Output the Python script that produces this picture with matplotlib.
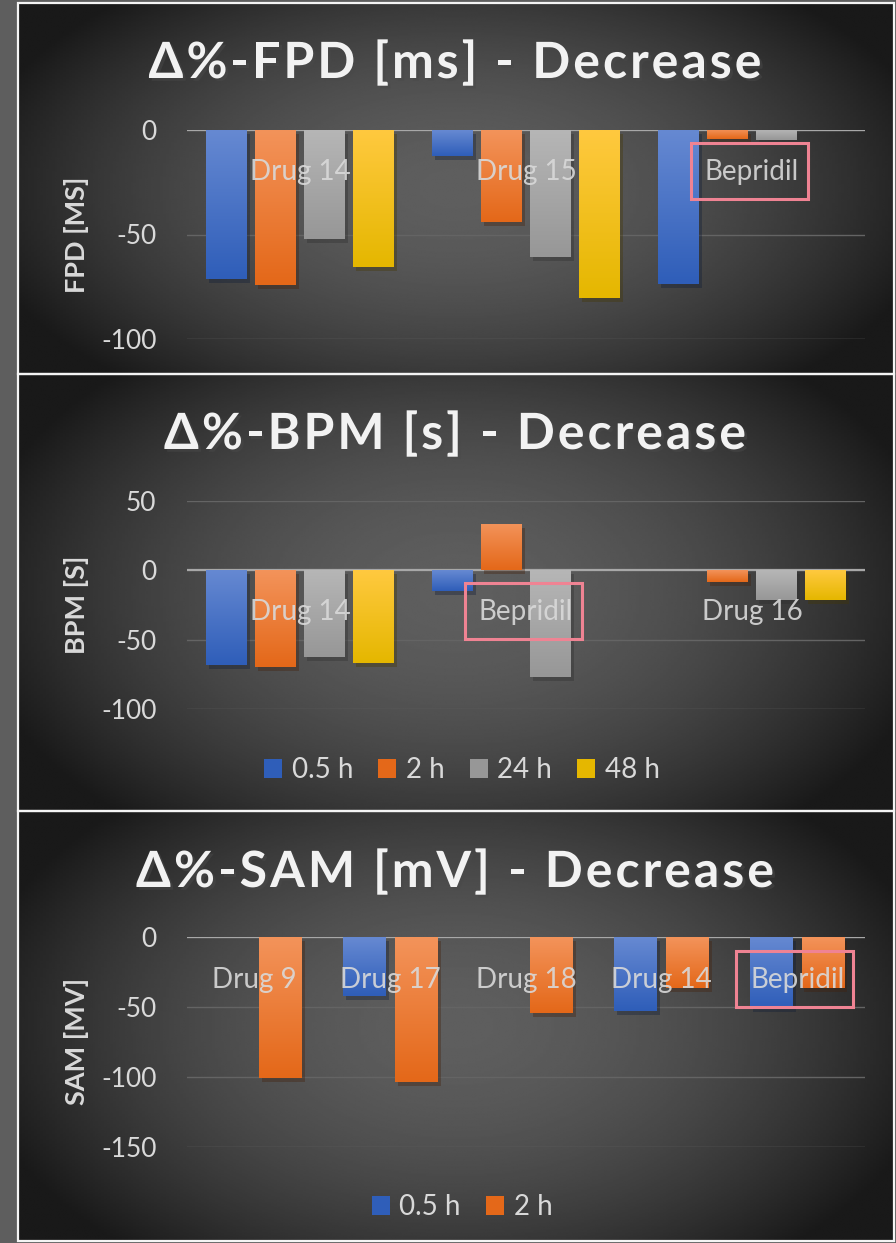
import numpy as np
import matplotlib
matplotlib.use("Agg")
import matplotlib.pyplot as plt
import matplotlib.patheffects as pe
from matplotlib.patches import Rectangle, Patch
from matplotlib.transforms import IdentityTransform
from matplotlib.colors import LinearSegmentedColormap

plt.rcParams['font.family'] = ['Lato', 'DejaVu Sans']
plt.rcParams['axes.unicode_minus'] = False

W, H = 896, 1243

# ---- data ----
hours = ["0.5 h", "2 h", "24 h", "48 h"]

fpd_drugs = ["Drug 14", "Drug 15", "Bepridil"]
fpd_05h = [-71.3, -12.4, -73.7]
fpd_2h = [-74.2, -44.0, -4.5]
fpd_24h = [-52.2, -60.8, -4.8]
fpd_48h = [-65.6, -80.4, 0]

bpm_drugs = ["Drug 14", "Bepridil", "Drug 16"]
bpm_05h = [-68.5, -14.9, 0]
bpm_2h = [-69.7, 33.2, -8.4]
bpm_24h = [-62.5, -77.0, -21.6]
bpm_48h = [-66.9, 0, -21.6]

sam_drugs = ["Drug 9", "Drug 17", "Drug 18", "Drug 14", "Bepridil"]
sam_05h = [0, -42.0, 0, -52.7, -51.0]
sam_2h = [-100.6, -103.5, -54.1, -36.3, -36.3]

# (top colour, bottom colour) of each series gradient
colors = [("#6689d2", "#2f5eb9"),
          ("#f3935a", "#e46819"),
          ("#b6b6b6", "#979797"),
          ("#ffc93f", "#e5b700")]
txt = "#d9d9d9"
pink = "#ef8393"

fig = plt.figure(figsize=(W / 100, H / 100), dpi=100)
fig.patch.set_facecolor("#5e5e5e")
renderer = fig.canvas.get_renderer()


def frac(x0, y0, x1, y1):
    return [x0 / W, 1 - y1 / H, (x1 - x0) / W, (y1 - y0) / H]


def px_rect(x0, y0, x1, y1, **kw):
    fig.add_artist(Rectangle((x0, H - y1), x1 - x0, y1 - y0,
                             transform=IdentityTransform(), **kw))


# radial dark background of every panel
gx, gy = np.meshgrid(np.linspace(-1, 1, 300), np.linspace(-1, 1, 300))
dist = np.sqrt(gx ** 2 + (gy / 1.25) ** 2)
radial = np.clip(0.37 - 0.22 * dist ** 1.8, 0.1, 1)


def panel(y0, y1):
    bg = fig.add_axes(frac(18, y0, 894, y1), zorder=0)
    bg.imshow(radial, cmap="gray", vmin=0, vmax=1, extent=(0, 1, 0, 1),
              aspect="auto", interpolation="bilinear")
    bg.set_axis_off()
    px_rect(18, y0, 894, y1, facecolor="none", edgecolor="#f4f4f4",
            lw=1.6, zorder=10)


def text_width(s, **kw):
    t = fig.text(0, 0, s, **kw)
    w = t.get_window_extent(renderer).width
    t.remove()
    return w


def spaced_title(s, cx, base, extra=3.0):
    # excel draws the chart titles with expanded character spacing
    kw = dict(fontsize=36, fontweight="bold")
    ref = text_width("I", **kw)
    xs = [text_width(s[:k] + "I", **kw) - ref + k * extra for k in range(len(s))]
    total = text_width(s, **kw) + (len(s) - 1) * extra
    x0 = cx - total / 2
    for ch, xk in zip(s, xs):
        if ch == " ":
            continue
        fig.text((x0 + xk) / W, 1 - base / H, ch, ha="left", va="baseline",
                 color="#f2f2f2", zorder=11,
                 path_effects=[pe.withSimplePatchShadow(offset=(2, -2), alpha=0.5)],
                 **kw)


def shade(ax, bars, c_top, c_bot):
    cmap = LinearSegmentedColormap.from_list("g", [c_top, c_bot])
    g = np.linspace(0, 1, 64).reshape(-1, 1)
    for b in bars:
        if b.get_height() == 0:
            continue
        x0, y0 = b.get_x(), b.get_y()
        x1, y1 = x0 + b.get_width(), y0 + b.get_height()
        im = ax.imshow(g, cmap=cmap, extent=(x0, x1, min(y0, y1), max(y0, y1)),
                       aspect="auto", origin="upper", zorder=3.5,
                       interpolation="bilinear")
        im.set_clip_path(b)


def chart(top, bottom, ylim, yticks, drugs, series, width, step, ylabel,
          label_y, title, title_base, box_idx):
    ax = fig.add_axes(frac(187, top, 865, bottom), zorder=2)
    ax.patch.set_alpha(0)
    x = np.arange(len(drugs))
    n = len(series)
    for j, vals in enumerate(series):
        bars = ax.bar(x + (j - (n - 1) / 2) * step, vals, width,
                      color=colors[j][1], zorder=3,
                      path_effects=[pe.SimplePatchShadow(offset=(2, -3), alpha=0.35),
                                    pe.Normal()])
        shade(ax, bars, *colors[j])
    ax.set_xlim(-0.5, len(drugs) - 0.5)
    ax.set_ylim(*ylim)
    ax.set_yticks(yticks)
    ax.set_xticks([])
    ax.yaxis.grid(True, color="#646464", lw=1, zorder=1)
    ax.axhline(0, color="#a8a8a8", lw=1.6, zorder=2.5)
    for s in ax.spines.values():
        s.set_visible(False)
    ax.tick_params(axis="y", length=0, pad=22, labelsize=19, labelcolor=txt)
    ax.set_ylabel(ylabel, fontsize=19.5, fontweight="bold", color=txt)
    ax.yaxis.set_label_coords(-0.144, 0.5)

    for i, d in enumerate(drugs):
        ax.text(i, label_y, d, ha="center", va="center", fontsize=20,
                color=txt, alpha=0.9, zorder=6)

    # pink highlight box around the Bepridil label
    cx, cy = ax.transData.transform((box_idx, label_y))
    fig.add_artist(Rectangle((cx - 61.5, cy - 27), 117, 56, transform=IdentityTransform(),
                             facecolor="none", edgecolor=pink, lw=2.2, zorder=12))

    spaced_title(title, 455, title_base)
    return ax


def legend(labels, cx, cy):
    handles = [Patch(facecolor=colors[k][1]) for k in range(len(labels))]
    fig.legend(handles, labels, loc="center", bbox_to_anchor=(cx / W, 1 - cy / H),
               ncol=len(labels), frameon=False, fontsize=20, labelcolor=txt,
               handlelength=0.65, handleheight=0.65, handletextpad=0.35,
               columnspacing=0.9)


panel(3, 374)
panel(374, 811)
panel(811, 1241)

chart(130, 339, (-100, 0), [0, -50, -100], fpd_drugs,
      [fpd_05h, fpd_2h, fpd_24h, fpd_48h], 0.181, 0.217, "FPD [MS]",
      -20, "\u0394%-FPD [ms] - Decrease", 78, 2)

chart(500.7, 709, (-100, 50), [50, 0, -50, -100], bpm_drugs,
      [bpm_05h, bpm_2h, bpm_24h, bpm_48h], 0.181, 0.217, "BPM [S]",
      -30, "\u0394%-BPM [s] - Decrease", 449, 1)
legend(hours, 462, 770)

chart(937, 1146.7, (-150, 0), [0, -50, -100, -150], sam_drugs,
      [sam_05h, sam_2h], 0.317, 0.383, "SAM [MV]",
      -30.8, "\u0394%-SAM [mV] - Decrease", 887, 4)
legend(hours[:2], 462, 1207)

fig.savefig("out.png", dpi=100, facecolor=fig.get_facecolor())
